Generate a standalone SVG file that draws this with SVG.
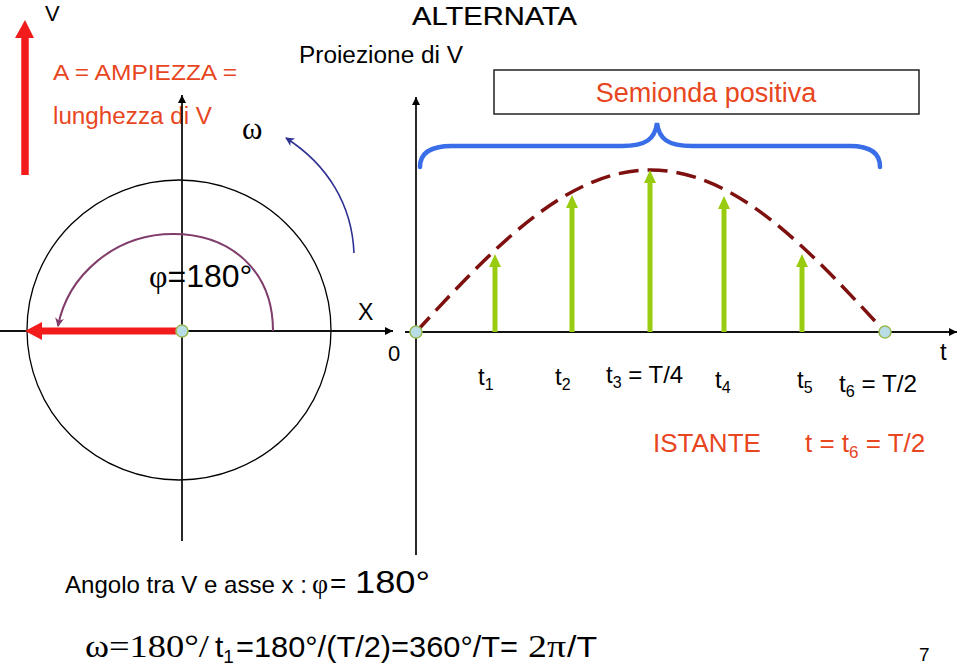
<svg xmlns="http://www.w3.org/2000/svg" width="960" height="670" viewBox="0 0 960 670">
<style>
.sans{font-family:"Liberation Sans",Arial,sans-serif;}
.serif{font-family:"Liberation Serif","Times New Roman",serif;}
.red{fill:#e8461e;}
.blk{fill:#000;}
.axis{stroke:#111;stroke-width:1.8;fill:none;}
.dot{fill:#b9dde6;stroke:#9bbb59;stroke-width:1.6;}
.green{stroke:#99cc11;stroke-width:5;fill:none;}
.gh{fill:#99cc11;}
</style>
<defs>
<marker id="ax" viewBox="0 0 10 10" refX="10" refY="5" markerWidth="10" markerHeight="8" markerUnits="userSpaceOnUse" orient="auto"><path d="M0,0 L10,5 L0,10 z" fill="#000"/></marker>
<marker id="pu" viewBox="0 0 10 10" refX="9" refY="5" markerWidth="10" markerHeight="9" markerUnits="userSpaceOnUse" orient="auto"><path d="M0,0 L10,5 L0,10 L3,5 z" fill="#803c6a"/></marker>
<marker id="bl" viewBox="0 0 10 10" refX="9" refY="5" markerWidth="11" markerHeight="9" markerUnits="userSpaceOnUse" orient="auto"><path d="M0,0 L10,5 L0,10 L3,5 z" fill="#2e3192"/></marker>
</defs>
<rect width="960" height="670" fill="#fff"/>

<g id="title-texts">
<text class="sans blk" x="45" y="21" font-size="22">V</text>
<text class="sans blk" x="412" y="25" font-size="25" stroke="#000" stroke-width="0.2" textLength="165" lengthAdjust="spacingAndGlyphs">ALTERNATA</text>
<text class="sans blk" x="299" y="63" font-size="23" textLength="164" lengthAdjust="spacingAndGlyphs">Proiezione di V</text>
<text class="sans red" x="53" y="80" font-size="22" textLength="184" lengthAdjust="spacingAndGlyphs">A = AMPIEZZA =</text>
<text class="sans red" x="53" y="124" font-size="23" textLength="159" lengthAdjust="spacingAndGlyphs">lunghezza di V</text>
</g>

<g id="amplitude-vector">
<line x1="25" y1="175" x2="25" y2="36" stroke="#f21c1c" stroke-width="7.5"/>
<polygon points="15,38 34,38 25,20" fill="#f21c1c"/>
</g>

<g id="semionda-box">
<rect x="494" y="70" width="425" height="44" fill="#fff" stroke="#222" stroke-width="1.5"/>
<text class="sans red" x="706" y="102" font-size="27" text-anchor="middle">Semionda positiva</text>
</g>

<g id="brace">
<path d="M420,167 C420,153 430,146 452,146 L622,146 C646,146 655,139 657,123 C659,139 668,146 692,146 L850,146 C870,146 880,153 880,167" fill="none" stroke="#3a6ee8" stroke-width="4.5" stroke-linecap="round"/>
</g>

<g id="phasor-circle">
<ellipse cx="179" cy="330" rx="152" ry="150" fill="none" stroke="#000" stroke-width="1.3"/>
</g>

<g id="connectors">
<line class="axis" x1="182" y1="541" x2="182" y2="95" marker-end="url(#ax)"/>
<line class="axis" x1="0" y1="331" x2="393" y2="331" marker-end="url(#ax)"/>
<line class="axis" x1="416" y1="555" x2="416" y2="97" marker-end="url(#ax)"/>
<line class="axis" x1="405" y1="332" x2="957" y2="332" marker-end="url(#ax)"/>
<path d="M273,331 C273,270 230,234 173,234 C115,234 68,275 58,326" fill="none" stroke="#803c6a" stroke-width="2" marker-end="url(#pu)"/>
<path d="M354,253 C352,205 328,165 286,138" fill="none" stroke="#2e3192" stroke-width="1.6" marker-end="url(#bl)"/>
</g>

<g id="rotating-vector">
<line x1="182" y1="331" x2="40" y2="331" stroke="#f21c1c" stroke-width="7"/>
<polygon points="42,322 42,340 25,331" fill="#f21c1c"/>
<circle class="dot" cx="182" cy="331" r="6"/>
</g>

<g id="phasor-labels">
<text class="serif blk" x="242" y="139" font-size="31">ω</text>
<text class="sans blk" x="149" y="287" font-size="32"><tspan class="serif">φ</tspan>=180°</text>
<text class="sans blk" x="358" y="320" font-size="23">X</text>
<text class="sans blk" x="388" y="361" font-size="22">0</text>
</g>

<g id="sine-wave">
<path d="M416,332 C492.5,249 565.6,170 650.5,170 C735.4,170 808.5,249 885,332" fill="none" stroke="#7f1010" stroke-width="3.5" stroke-dasharray="20,9"/>
<circle class="dot" cx="416" cy="332" r="6"/>
<circle class="dot" cx="885" cy="332" r="6"/>
</g>

<g id="projections">
<line class="green" x1="495" y1="332" x2="495" y2="266"/><polygon class="gh" points="489,267 501,267 495,254"/>
<line class="green" x1="572" y1="332" x2="572" y2="207"/><polygon class="gh" points="566,208 578,208 572,195"/>
<line class="green" x1="650" y1="332" x2="650" y2="182"/><polygon class="gh" points="644,183 656,183 650,170"/>
<line class="green" x1="724" y1="332" x2="724" y2="208"/><polygon class="gh" points="718,209 730,209 724,196"/>
<line class="green" x1="802" y1="332" x2="802" y2="266"/><polygon class="gh" points="796,267 808,267 802,254"/>
</g>

<g id="time-labels">
<text class="sans blk" x="940" y="360" font-size="24">t</text>
<text class="sans blk" x="478" y="385" font-size="24">t<tspan font-size="16" dy="5">1</tspan></text>
<text class="sans blk" x="555" y="385" font-size="24">t<tspan font-size="16" dy="5">2</tspan></text>
<text class="sans blk" x="606" y="383" font-size="24">t<tspan font-size="16" dy="5">3</tspan><tspan dy="-5"> = T/4</tspan></text>
<text class="sans blk" x="715" y="388" font-size="24">t<tspan font-size="16" dy="5">4</tspan></text>
<text class="sans blk" x="797" y="388" font-size="24">t<tspan font-size="16" dy="5">5</tspan></text>
<text class="sans blk" x="839" y="392" font-size="24" textLength="78" lengthAdjust="spacingAndGlyphs">t<tspan font-size="16" dy="5">6</tspan><tspan dy="-5"> = T/2</tspan></text>
<text class="sans red" x="653" y="452" font-size="26">ISTANTE</text>
<text class="sans red" x="805" y="452" font-size="26">t = t<tspan font-size="17" dy="6">6</tspan><tspan dy="-6"> = T/2</tspan></text>
</g>

<g id="bottom-formulas">
<text class="sans blk" x="65" y="593" font-size="24" textLength="242" lengthAdjust="spacingAndGlyphs">Angolo tra V e asse x :</text>
<text class="serif blk" x="312" y="593" font-size="28">φ</text>
<text class="sans blk" x="330" y="593" font-size="28">=</text>
<text class="sans blk" x="355" y="593" font-size="32" textLength="75" lengthAdjust="spacingAndGlyphs">180°</text>
<text class="serif blk" x="85" y="657" font-size="32" textLength="124" lengthAdjust="spacingAndGlyphs">ω=180°/</text>
<text class="sans blk" x="215" y="657" font-size="30">t<tspan font-size="19" dy="6">1</tspan></text>
<text class="sans blk" x="236" y="657" font-size="30" textLength="282" lengthAdjust="spacingAndGlyphs">=180°/(T/2)=360°/T=</text>
<text class="serif blk" x="528" y="657" font-size="32" textLength="38" lengthAdjust="spacingAndGlyphs">2π</text>
<text class="sans blk" x="567" y="657" font-size="30" textLength="30" lengthAdjust="spacingAndGlyphs">/T</text>
<text class="sans blk" x="919" y="661" font-size="19">7</text>
</g>
</svg>
